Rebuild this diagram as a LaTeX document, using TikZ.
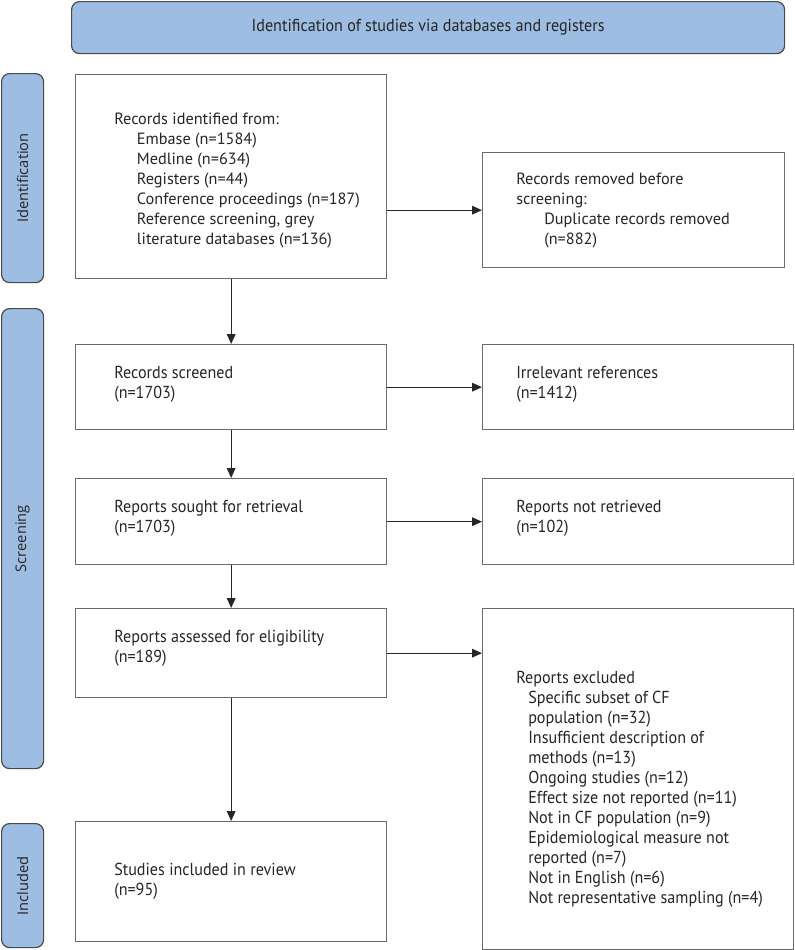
\documentclass[tikz,border=0pt]{standalone}
\usepackage{fontspec}
\setmainfont{PT Sans}
\newfontfamily\condfont[FakeStretch=0.93]{PT Sans}
\newfontfamily\sidefont{Open Sans}
\usetikzlibrary{arrows.meta}
\definecolor{barblue}{HTML}{9DBDE2}
\definecolor{barline}{HTML}{4A4A4A}
\definecolor{boxline}{HTML}{6A6A6A}
\tikzset{
  box/.style={draw=boxline, line width=1pt, fill=white, anchor=north west, inner sep=0pt},
  sidebar/.style={draw=barline, line width=0.9pt, fill=barblue, rounded corners=6pt, anchor=north west, inner sep=0pt},
  sidelabel/.style={font=\sidefont\fontsize{11}{13}\selectfont, rotate=90, text=black!85},
  txtn/.style={anchor=base west, inner sep=0pt, font=\fontsize{12.2}{15}\selectfont, text=black!85},
  txtc/.style={anchor=base west, inner sep=0pt, font=\condfont\fontsize{13}{15}\selectfont, text=black!85},
  arr/.style={-{Triangle[length=7.5pt,width=6.5pt]}, line width=0.8pt, draw=black!85}
}
\begin{document}
\begin{tikzpicture}[x=0.75pt,y=-0.75pt]
\useasboundingbox (0,0) rectangle (794,950);
% banner
\node[sidebar, minimum width={713*0.75pt}, minimum height={52*0.75pt}] (ban) at (71,1) {};
\node[anchor=center, inner sep=0pt, font=\condfont\fontsize{13}{15}\selectfont, text=black!85] (bant) at (ban.center) {Identification of studies via databases and registers};
% side bars
\node[sidebar, minimum width={42*0.75pt}, minimum height={209*0.75pt}] (sid) at (1,73) {};
\node[sidelabel] (sidt) at (sid.center) {Identification};
\node[sidebar, minimum width={42*0.75pt}, minimum height={460*0.75pt}] (ssc) at (1,308) {};
\node[sidelabel] (ssct) at (ssc.center) {Screening};
\node[sidebar, minimum width={42*0.75pt}, minimum height={124*0.75pt}] (sin) at (1,823) {};
\node[sidelabel] (sint) at (sin.center) {Included};
% left boxes
\node[box, minimum width={311*0.75pt}, minimum height={204*0.75pt}] (rid) at (75,74) {};
\node[box, minimum width={311*0.75pt}, minimum height={85*0.75pt}] (scr) at (75,344) {};
\node[box, minimum width={311*0.75pt}, minimum height={86*0.75pt}] (sou) at (75,478) {};
\node[box, minimum width={311*0.75pt}, minimum height={89*0.75pt}] (ass) at (75,608) {};
\node[box, minimum width={311*0.75pt}, minimum height={120*0.75pt}] (inc) at (75,821) {};
% right boxes
\node[box, minimum width={302*0.75pt}, minimum height={115*0.75pt}] (rem) at (482,152) {};
\node[box, minimum width={311*0.75pt}, minimum height={85*0.75pt}] (irr) at (482,344) {};
\node[box, minimum width={311*0.75pt}, minimum height={86*0.75pt}] (nre) at (482,478) {};
\node[box, minimum width={311*0.75pt}, minimum height={341*0.75pt}] (exc) at (482,608) {};
% texts
\node[txtn] (ridt) at (114,124) {\vtop{\hbox{Records identified from:}
  \hbox{\hspace*{17pt}Embase (n=1584)}
  \hbox{\hspace*{17pt}Medline (n=634)}
  \hbox{\hspace*{17pt}Registers (n=44)}
  \hbox{\hspace*{17pt}Conference proceedings (n=187)}
  \hbox{\hspace*{17pt}Reference screening, grey}
  \hbox{\hspace*{17pt}literature databases (n=136)}}};
\node[txtn] (remt) at (516,184) {\vtop{\hbox{Records removed before}
  \hbox{screening:}
  \hbox{\hspace*{21pt}Duplicate records removed}
  \hbox{\hspace*{21pt}(n=882)}}};
\node[txtc] (scrt) at (114,378) {\vtop{\hbox{Records screened}\hbox{(n=1703)}}};
\node[txtc] (irrt) at (516,378) {\vtop{\hbox{Irrelevant references}\hbox{(n=1412)}}};
\node[txtc] (sout) at (114,512) {\vtop{\hbox{Reports sought for retrieval}\hbox{(n=1703)}}};
\node[txtc] (nret) at (516,512) {\vtop{\hbox{Reports not retrieved}\hbox{(n=102)}}};
\node[txtc] (asst) at (114,642) {\vtop{\hbox{Reports assessed for eligibility}\hbox{(n=189)}}};
\node[txtc] (inct) at (114,875) {\vtop{\hbox{Studies included in review}\hbox{(n=95)}}};
\node[txtc] (exct) at (516,683) {\vtop{\hbox{Reports excluded}
  \hbox{\hspace*{9pt}Specific subset of CF}
  \hbox{\hspace*{9pt}population (n=32)}
  \hbox{\hspace*{9pt}Insufficient description of}
  \hbox{\hspace*{9pt}methods (n=13)}
  \hbox{\hspace*{9pt}Ongoing studies (n=12)}
  \hbox{\hspace*{9pt}Effect size not reported (n=11)}
  \hbox{\hspace*{9pt}Not in CF population (n=9)}
  \hbox{\hspace*{9pt}Epidemiological measure not}
  \hbox{\hspace*{9pt}reported (n=7)}
  \hbox{\hspace*{9pt}Not in English (n=6)}
  \hbox{\hspace*{9pt}Not representative sampling (n=4)}}};
% arrows
\draw[arr] (rid.south) -- (scr.north);
\draw[arr] (scr.south) -- (sou.north);
\draw[arr] (sou.south) -- (ass.north);
\draw[arr] (ass.south) -- (inc.north);
\draw[arr] (rid.east |- rem.west) -- (rem.west);
\draw[arr] (scr.east) -- (irr.west);
\draw[arr] (sou.east) -- (nre.west);
\draw[arr] (ass.east) -- (exc.west |- ass.east);
\end{tikzpicture}
\end{document}
